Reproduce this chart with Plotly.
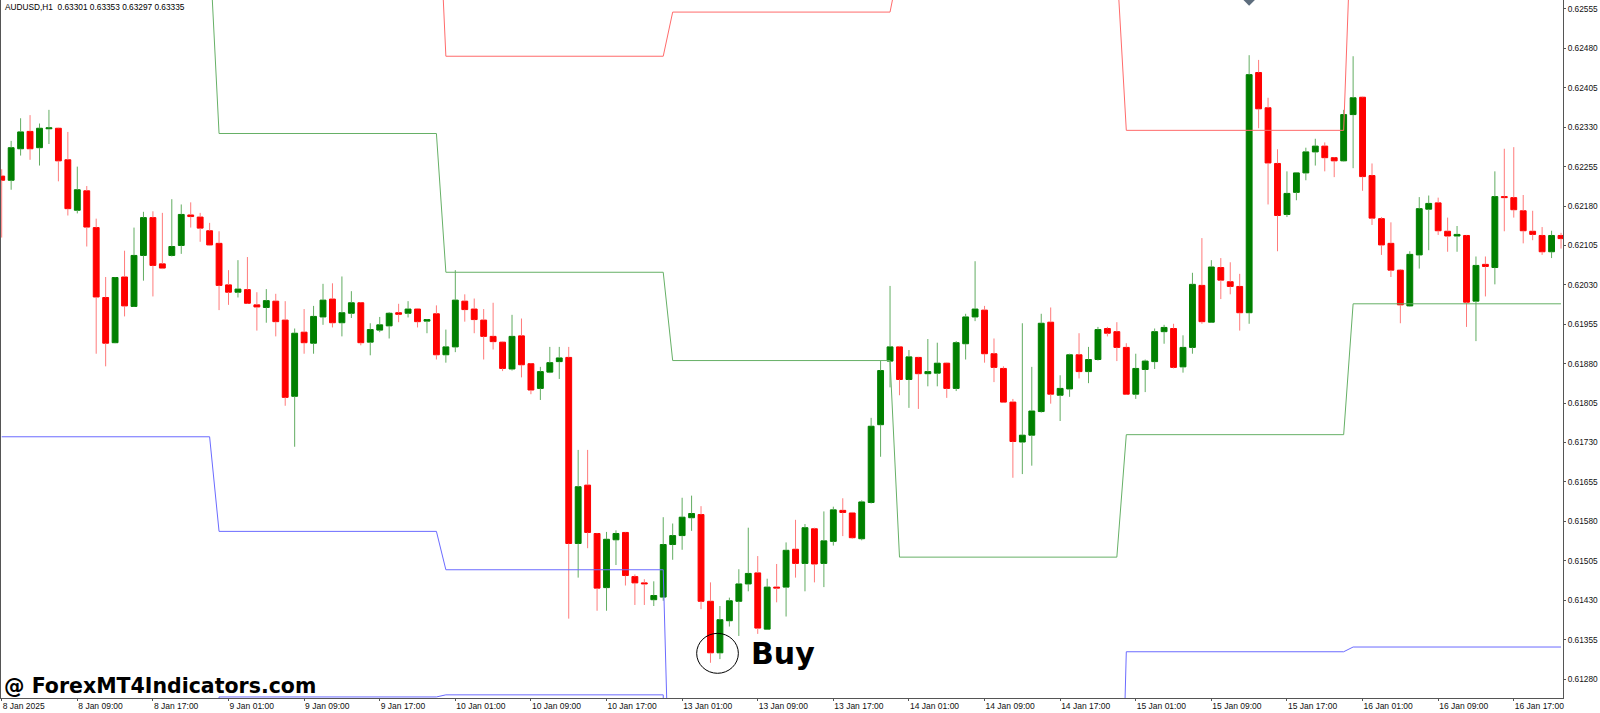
import plotly.graph_objects as go

# ---- OHLC data (in 1e-5 price points), H1 AUDUSD bars ----
open_pts = [62237,62229,62289,62322,62291,62327,62328,62268,62172,62209,62139,62006,61920,62045,61989,62086,62158,62070,62086,62105,
            62163,62159,62133,62109,62030,62016,62021,61992,61987,61999,61963,61818,61940,61919,61969,62003,61958,61976,61996,61921,
            61944,61952,61977,61976,61984,61961,61975,61897,61912,61999,61984,61963,61932,61921,61870,61933,61880,61833,61864,61884,
            61892,61538,61649,61557,61454,61545,61559,61475,61463,61431,61436,61536,61553,61587,61593,61428,61330,61391,61428,61461,
            61482,61375,61455,61455,61527,61500,61566,61500,61542,61601,61596,61547,61616,61764,61885,61912,61850,61892,61861,61862,
            61881,61833,61918,61969,61982,61899,61871,61807,61731,61744,61789,61959,61820,61832,61897,61865,61888,61947,61941,61911,
            61822,61869,61884,61941,61947,61874,61911,62029,61959,62063,62036,62027,61977,62434,62367,62261,62164,62206,62243,62283,
            62294,62272,62266,62354,62387,62238,62156,62109,62058,61990,62087,62174,62186,62132,62123,62124,61999,62069,62063,62198,
            62196,62171,62132,62124,62093,62124]
high_pts = [62250,62304,62347,62353,62337,62363,62329,62321,62255,62218,62156,62045,62045,62095,62139,62169,62170,62167,62193,62183,
            62187,62167,62148,62132,62058,62077,62083,62016,62022,62013,61999,61947,61984,61990,62032,62033,62046,62018,61997,61957,
            61969,61978,61994,61999,61985,61965,61991,61945,62058,62012,62004,61984,61996,61922,61973,61966,61881,61874,61912,61912,
            61912,61716,61716,61558,61560,61563,61560,61479,61470,61466,61588,61576,61625,61629,61609,61464,61419,61435,61489,61568,
            61514,61471,61499,61540,61583,61575,61568,61599,61608,61624,61598,61620,61777,61886,62028,61914,61906,61893,61927,61920,
            61882,61923,61975,62075,61990,61928,61875,61813,61957,61874,61975,61987,61858,61899,61938,61912,61950,61950,61959,61919,
            61899,61888,61947,61954,61956,61934,62053,62119,62077,62081,62073,62051,62467,62458,62386,62288,62246,62244,62291,62308,
            62301,62273,62363,62465,62388,62261,62159,62149,62060,62094,62197,62200,62196,62158,62142,62125,62084,62084,62246,62289,
            62292,62201,62171,62140,62133,62129]
low_pts = [62120,62211,62276,62268,62257,62298,62227,62162,62166,62103,61899,61875,61919,61970,61988,62038,62008,62060,62084,62089,
           62139,62112,62105,61982,61992,62006,61994,61943,61958,61932,61800,61722,61899,61899,61954,61949,61932,61967,61915,61896,
           61940,61928,61959,61968,61949,61938,61888,61882,61902,61960,61938,61888,61907,61866,61867,61854,61822,61811,61862,61851,
           61395,61473,61529,61410,61410,61497,61458,61421,61421,61419,61429,61507,61526,61562,61413,61311,61318,61380,61362,61447,
           61366,61374,61426,61399,61473,61447,61464,61455,61534,61552,61547,61544,61614,61703,61835,61820,61796,61794,61837,61837,
           61815,61828,61888,61961,61882,61845,61806,61663,61670,61686,61787,61804,61771,61817,61852,61843,61886,61932,61885,61821,
           61813,61826,61870,61918,61871,61863,61899,61956,61958,62003,62012,61943,61956,62328,62183,62094,62159,62191,62229,62257,
           62246,62235,62265,62252,62209,62144,62087,62045,61957,61989,62061,62096,62125,62093,62093,61950,61923,62008,62031,62132,
           62158,62109,62115,62087,62081,62099]
close_pts = [62229,62291,62321,62289,62328,62329,62266,62175,62211,62140,62007,61919,62044,61990,62086,62158,62067,62062,62103,62164,
             62160,62138,62106,62029,62016,62022,61995,61988,62000,61960,61816,61938,61920,61970,62001,61958,61977,61996,61920,61945,
             61954,61976,61974,61984,61960,61964,61897,61912,62001,61983,61964,61932,61922,61871,61932,61878,61830,61865,61882,61891,
             61538,61646,61559,61453,61546,61557,61477,61463,61461,61439,61536,61553,61588,61595,61428,61330,61393,61429,61461,61481,
             61377,61455,61453,61525,61500,61568,61499,61543,61602,61597,61549,61617,61761,61867,61912,61850,61893,61861,61865,61881,
             61833,61920,61969,61984,61899,61873,61807,61732,61744,61790,61957,61822,61833,61897,61865,61888,61945,61938,61911,61822,
             61871,61885,61941,61949,61873,61911,62031,61960,62064,62039,62027,61977,62430,62365,62262,62162,62204,62243,62283,62294,
             62272,62266,62354,62386,62236,62157,62106,62058,61992,62088,62175,62185,62133,62123,62126,61997,62067,62065,62198,62196,
             62173,62133,62126,62093,62124,62118]

opens = [v / 1e5 for v in open_pts]
highs = [v / 1e5 for v in high_pts]
lows = [v / 1e5 for v in low_pts]
closes = [v / 1e5 for v in close_pts]

# ---- daily channel levels ----
day_first_bar = [0, 23, 47, 71, 95, 119, 143]
upper_level = [0.62900, 0.62860, 0.62465, 0.62549, 0.62640, 0.62324, 0.62820]
middle_level = [0.62674, 0.62318, 0.62054, 0.61886, 0.61512, 0.61745, 0.61994]
lower_level = [0.61741, 0.61561, 0.61488, 0.60820, 0.60650, 0.61332, 0.61341]
lower2_level = [0.60800, 0.61246, 0.61250, 0.60100, 0.59900, 0.60900, 0.60950]

# ---- axis labels ----
time_tick_bars = [0, 8, 16, 24, 32, 40, 48, 56, 64, 72, 80, 88, 96, 104, 112, 120, 128, 136, 144, 152, 160]
time_tick_text = ["8 Jan 2025", "8 Jan 09:00", "8 Jan 17:00", "9 Jan 01:00", "9 Jan 09:00", "9 Jan 17:00",
                  "10 Jan 01:00", "10 Jan 09:00", "10 Jan 17:00", "13 Jan 01:00", "13 Jan 09:00", "13 Jan 17:00",
                  "14 Jan 01:00", "14 Jan 09:00", "14 Jan 17:00", "15 Jan 01:00", "15 Jan 09:00", "15 Jan 17:00",
                  "16 Jan 01:00", "16 Jan 09:00", "16 Jan 17:00"]
price_ticks = [0.61280, 0.61355, 0.61430, 0.61505, 0.61580, 0.61655, 0.61730, 0.61805, 0.61880,
               0.61955, 0.62030, 0.62105, 0.62180, 0.62255, 0.62330, 0.62405, 0.62480, 0.62555]
price_text = ["%.5f" % p for p in price_ticks]

n = len(opens)
idx = list(range(n))

def expand(levels):
    out = []
    for i in idx:
        d = 0
        for k, s in enumerate(day_first_bar):
            if i >= s:
                d = k
        out.append(levels[d])
    return out

BULL = "#008000"
BEAR = "#ff0000"
BULL_WICK = "#62ad62"
BEAR_WICK = "#ff7b7b"
LABEL_FONT = "Liberation Sans, Arial"
BOLD_FONT = "DejaVu Sans, Verdana"

fig = go.Figure()

# wicks (drawn outside the bodies)
for bull, col in ((True, BULL_WICK), (False, BEAR_WICK)):
    wx, wy = [], []
    for i in idx:
        if (closes[i] > opens[i]) != bull:
            continue
        lo_b = min(opens[i], closes[i])
        hi_b = max(opens[i], closes[i])
        wx += [i, i, None, i, i, None]
        wy += [lows[i], lo_b, None, hi_b, highs[i], None]
    fig.add_trace(go.Scatter(x=wx, y=wy, mode="lines", line=dict(color=col, width=1),
                             hoverinfo="skip", connectgaps=False))

# bodies
body_col = [BULL if closes[i] > opens[i] else BEAR for i in idx]
fig.add_trace(go.Bar(x=idx, y=[abs(closes[i] - opens[i]) for i in idx],
                     base=[min(opens[i], closes[i]) for i in idx],
                     width=0.62, marker=dict(color=body_col, line=dict(color=body_col, width=1))))

# channel lines
for levels, col in ((upper_level, "#ff6b6b"), (middle_level, "#66b066"),
                    (lower_level, "#6b6bff"), (lower2_level, "#6b6bff")):
    fig.add_trace(go.Scatter(x=idx, y=expand(levels), mode="lines",
                             line=dict(color=col, width=1), hoverinfo="skip"))

# grey arrow object at top
fig.add_trace(go.Scatter(x=[132], y=[0.62576], mode="markers",
                         marker=dict(symbol="diamond", size=12, color="#5d6d7d")))

fig.add_shape(type="circle", xref="x", yref="y", x0=73.54, x1=77.95, y0=0.61291, y1=0.61367,
              line=dict(color="black", width=1))

fig.add_annotation(x=79.1, y=0.61328, xref="x", yref="y", xanchor="left", yanchor="middle",
                   text="<b>Buy</b>", showarrow=False,
                   font=dict(family=BOLD_FONT, size=30, color="black"))

fig.add_annotation(x=0, y=0, xref="paper", yref="paper", xanchor="left", yanchor="bottom",
                   xshift=1, yshift=-2, text="<b>@ ForexMT4Indicators.com</b>", showarrow=False,
                   font=dict(family=BOLD_FONT, size=20.5, color="black"))

fig.add_annotation(x=0, y=1, xref="paper", yref="paper", xanchor="left", yanchor="top",
                   xshift=2, yshift=0, text="AUDUSD,H1\u00a0 0.63301 0.63353 0.63297 0.63335", showarrow=False,
                   font=dict(family=LABEL_FONT, size=8.3, color="black"))

fig.update_layout(width=1600, height=713, margin=dict(l=1, r=37, t=0, b=15, autoexpand=False),
                  paper_bgcolor="white", plot_bgcolor="white", showlegend=False,
                  font=dict(family=LABEL_FONT, size=8.3, color="#111"))
fig.update_xaxes(range=[-0.074, 165.21], tickmode="array", tickvals=time_tick_bars, ticktext=time_tick_text,
                 ticks="outside", ticklen=2, tickcolor="#555", showline=True, linecolor="#555", linewidth=1,
                 showgrid=False, zeroline=False, ticklabelposition="outside right", automargin=False,
                 tickfont=dict(family=LABEL_FONT, size=8.5, color="#111"))
fig.update_yaxes(side="right", range=[0.61244, 0.62572], tickmode="array", tickvals=price_ticks,
                 ticktext=price_text, ticks="outside", ticklen=2, tickcolor="#555", showline=True,
                 mirror=True, linecolor="#555", linewidth=1, showgrid=False, zeroline=False, automargin=False,
                 tickfont=dict(family=LABEL_FONT, size=8.3, color="#111"))

fig.write_html("out.html", config={"displayModeBar": False},
               post_script="document.body.style.margin='0px';document.body.style.overflow='hidden';")
